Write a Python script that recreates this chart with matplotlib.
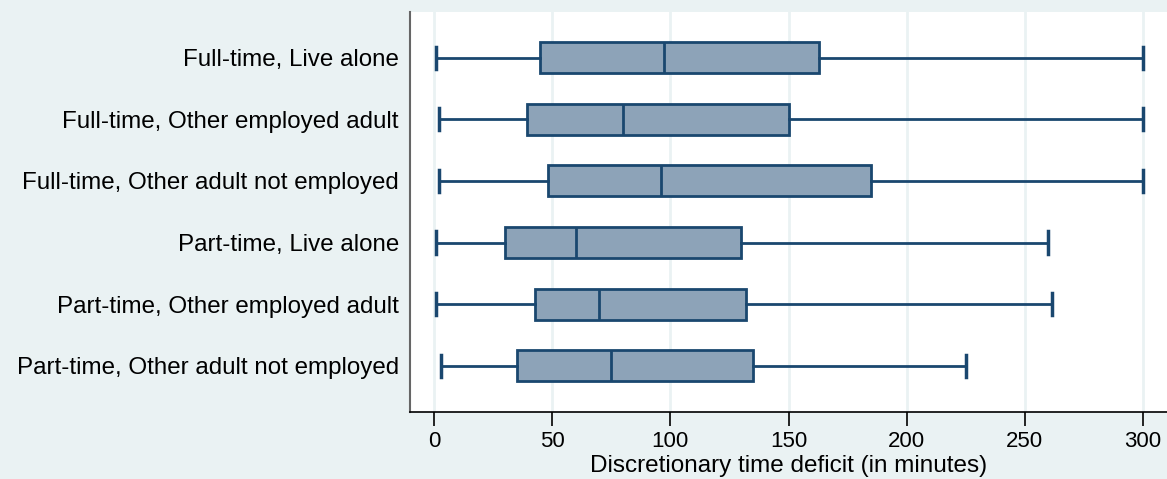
import matplotlib.pyplot as plt

# five-number summaries for each work / household group (minutes)
groups = ['Full-time, Live alone',
          'Full-time, Other employed adult',
          'Full-time, Other adult not employed',
          'Part-time, Live alone',
          'Part-time, Other employed adult',
          'Part-time, Other adult not employed']
lower_adj = [1, 2, 2, 1, 1, 3]
q1 = [45, 39.5, 48, 30, 42.5, 35]
median = [97.5, 80, 96, 60, 70, 75]
q3 = [163, 150, 185, 130, 132, 135]
upper_adj = [300, 300, 300, 260, 261.5, 225.3]

xticks = [0, 50, 100, 150, 200, 250, 300]

navy = '#1A476F'
fill = '#8DA3B8'
bg = '#EAF2F3'

stats = []
for i, g in enumerate(groups):
    stats.append({'label': g, 'whislo': lower_adj[i], 'q1': q1[i], 'med': median[i],
                  'q3': q3[i], 'whishi': upper_adj[i], 'fliers': []})

fig = plt.figure(figsize=(11.67, 4.79), dpi=100, facecolor=bg)
ax = fig.add_axes([410 / 1167, 1 - 412 / 479, 757 / 1167, 400 / 479])
ax.set_facecolor('white')

positions = list(range(1, len(groups) + 1))
ax.bxp(stats, positions=positions, vert=False, widths=0.5, patch_artist=True,
       showfliers=False,
       boxprops=dict(facecolor=fill, edgecolor=navy, linewidth=2),
       medianprops=dict(color=navy, linewidth=2),
       whiskerprops=dict(color=navy, linewidth=2),
       capprops=dict(color=navy, linewidth=2.5),
       capwidths=0.36)

ax.set_ylim(6.75, 0.26)
ax.set_xlim(-10.2, 310.2)

ax.set_xticks(xticks)
ax.set_xticklabels([str(t) for t in xticks], family='Liberation Sans', fontsize=16)
ax.set_yticks(positions)
ax.set_yticklabels(groups, family='Liberation Sans', fontsize=17.4)
ax.tick_params(axis='y', length=0, pad=8)
ax.tick_params(axis='x', length=10, width=1.2, color='black', pad=4)

ax.grid(axis='x', color=bg, linewidth=2)
ax.set_axisbelow(True)

for s in ['top', 'right']:
    ax.spines[s].set_visible(False)
ax.spines['left'].set_color('#666666')
ax.spines['left'].set_linewidth(1.5)
ax.spines['bottom'].set_color('black')
ax.spines['bottom'].set_linewidth(1.2)

ax.set_xlabel('Discretionary time deficit (in minutes)',
              family=['Liberation Sans Narrow', 'Liberation Sans'], fontsize=17.5, labelpad=2)

fig.savefig('out.png', dpi=100, facecolor=bg)
